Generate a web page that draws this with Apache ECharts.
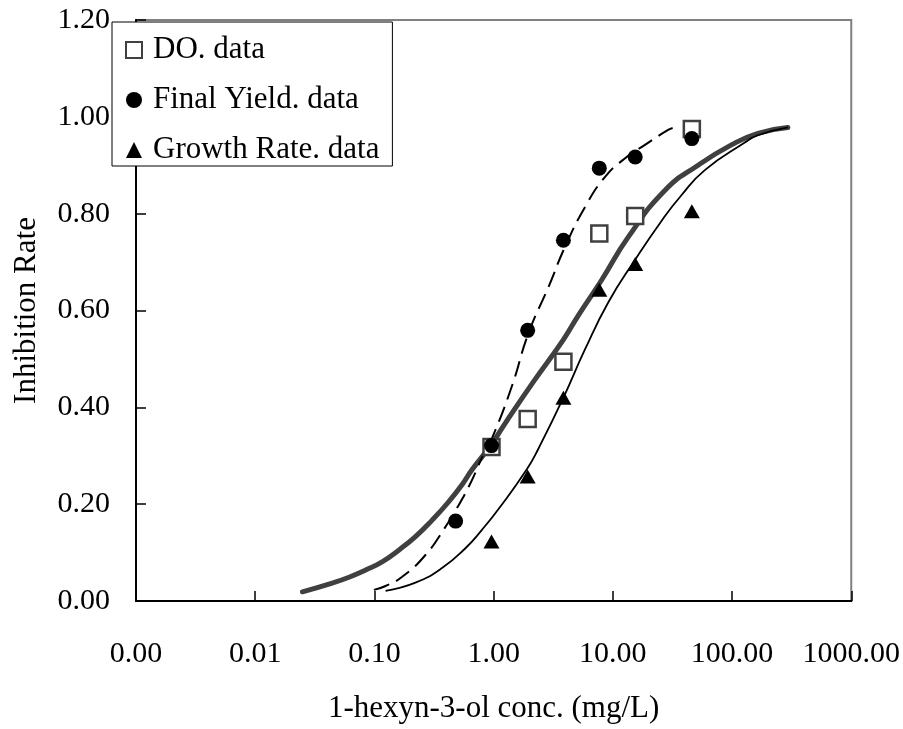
<!DOCTYPE html>
<html>
<head>
<meta charset="utf-8">
<title>1-hexyn-3-ol inhibition</title>
<script src="https://cdn.jsdelivr.net/npm/echarts@6/dist/echarts.min.js"></script>
<style>
  html, body { margin: 0; padding: 0; background: #fff; }
  #chart { width: 903px; height: 729px; }
</style>
</head>
<body>
<div id="chart"></div>
<script>
// Test concentrations (mg/L)
const concentrations = [0.48, 0.96, 1.93, 3.85, 7.7, 15.4, 46];

// Measured inhibition rates (null = not measured)
const doValues          = [null, 0.318, 0.376, 0.494, 0.759, 0.795, 0.975];
const finalYieldValues  = [0.165, 0.321, 0.559, 0.745, 0.894, 0.917, 0.955];
const growthRateValues  = [null, 0.123, 0.257, 0.420, 0.643, 0.696, 0.805];

// Fitted dose-response curves: [concentration, inhibition]
const doFit = [
  [0.0249, 0.019], [0.0443, 0.037], [0.0612, 0.049], [0.0844, 0.064],
  [0.116, 0.081], [0.160, 0.105], [0.221, 0.133], [0.305, 0.167],
  [0.420, 0.205], [0.543, 0.240], [0.658, 0.271], [0.949, 0.322],
  [1.25, 0.367], [2.16, 0.453], [3.85, 0.540], [5.14, 0.590],
  [8.06, 0.663], [13.5, 0.752], [27.3, 0.848],
  [51.9, 0.900], [98.7, 0.942], [165, 0.966], [294, 0.978]
];
const finalYieldFit = [
  [0.099, 0.023], [0.124, 0.031], [0.171, 0.050], [0.268, 0.095],
  [0.394, 0.153], [0.509, 0.198], [0.618, 0.236], [0.703, 0.265],
  [0.798, 0.296], [0.968, 0.336], [1.42, 0.443], [1.96, 0.553],
  [2.89, 0.649], [3.98, 0.732], [5.85, 0.814], [8.61, 0.876],
  [12.6, 0.914], [18.6, 0.942], [29.1, 0.973], [33, 0.978]
];
const growthRateFit = [
  [0.124, 0.021], [0.221, 0.038], [0.369, 0.068], [0.580, 0.109],
  [0.798, 0.147], [1.10, 0.190], [1.90, 0.272], [2.38, 0.315],
  [3.85, 0.420], [5.85, 0.520], [9.17, 0.617], [15.3, 0.704],
  [25.6, 0.785], [37.6, 0.838], [59.1, 0.890], [128, 0.947],
  [165, 0.962], [294, 0.978]
];

const seriesNames = ['DO. data', 'Final Yield. data', 'Growth Rate. data'];
const xAxisTitle = '1-hexyn-3-ol conc. (mg/L)';
const yAxisTitle = 'Inhibition Rate';

const FONT = "'Liberation Serif', 'Times New Roman', 'DejaVu Serif', serif";

function pairs(values) {
  const out = [];
  values.forEach((v, i) => { if (v !== null) out.push([concentrations[i], v]); });
  return out;
}

const chart = echarts.init(document.getElementById('chart'), null, { renderer: 'canvas' });

chart.setOption({
  animation: false,
  backgroundColor: '#fff',
  grid: {
    left: 136, right: 50, top: 20, bottom: 128,
    show: true, borderColor: '#808080', borderWidth: 2, backgroundColor: 'transparent'
  },
  legend: {
    orient: 'vertical',
    left: 112, top: 22,
    backgroundColor: '#fff',
    borderColor: '#000', borderWidth: 1, borderRadius: 0,
    padding: [12, 13, 0, 13],
    itemWidth: 16, itemHeight: 16, itemGap: 18,
    textStyle: { fontFamily: FONT, fontSize: 31, color: '#000', lineHeight: 32, padding: [0, 0, 0, 6] },
    data: seriesNames
  },
  xAxis: {
    type: 'log', logBase: 10,
    min: 0.001, max: 1000, splitNumber: 6,
    name: xAxisTitle, nameLocation: 'middle', nameGap: 92,
    nameTextStyle: { fontFamily: FONT, fontSize: 31, color: '#000' },
    axisLine: { show: true, onZero: false, lineStyle: { color: '#000', width: 2 } },
    axisTick: { show: true, inside: true, length: 10, lineStyle: { color: '#000', width: 1.5 } },
    minorTick: { show: false },
    splitLine: { show: false },
    axisLabel: {
      interval: 0, margin: 38, showMinLabel: true, showMaxLabel: true,
      fontFamily: FONT, fontSize: 30, color: '#000',
      formatter: v => Number(v).toFixed(2)
    }
  },
  yAxis: {
    type: 'value', min: 0, max: 1.2, interval: 0.2,
    name: yAxisTitle, nameLocation: 'middle', nameGap: 94, nameRotate: 90,
    nameTextStyle: { fontFamily: FONT, fontSize: 31, color: '#000' },
    axisLine: { show: true, lineStyle: { color: '#000', width: 2 } },
    axisTick: { show: true, inside: true, length: 10, lineStyle: { color: '#000', width: 1.5 } },
    splitLine: { show: false },
    axisLabel: {
      margin: 26, fontFamily: FONT, fontSize: 30, color: '#000',
      formatter: v => v.toFixed(2)
    }
  },
  series: [
    {
      name: 'DO. fit', type: 'line', data: doFit, showSymbol: false,
      smooth: 0.5, z: 2,
      lineStyle: { color: '#404040', width: 5, cap: 'round' }
    },
    {
      name: 'Final Yield. fit', type: 'line', data: finalYieldFit, showSymbol: false,
      smooth: 0.5, z: 2,
      lineStyle: { color: '#000', width: 2, type: [16, 8] }
    },
    {
      name: 'Growth Rate. fit', type: 'line', data: growthRateFit, showSymbol: false,
      smooth: 0.5, z: 2,
      lineStyle: { color: '#000', width: 1.8 }
    },
    {
      name: seriesNames[0], type: 'scatter', data: pairs(doValues),
      symbol: 'rect', symbolSize: 16, z: 3,
      itemStyle: { color: '#fff', borderColor: '#404040', borderWidth: 2.5, opacity: 1 }
    },
    {
      name: seriesNames[1], type: 'scatter', data: pairs(finalYieldValues),
      symbol: 'circle', symbolSize: 15, z: 4,
      itemStyle: { color: '#000', opacity: 1 }
    },
    {
      name: seriesNames[2], type: 'scatter', data: pairs(growthRateValues),
      symbol: 'triangle', symbolSize: [16, 14], z: 4,
      itemStyle: { color: '#000', opacity: 1 }
    }
  ]
});
</script>
</body>
</html>
